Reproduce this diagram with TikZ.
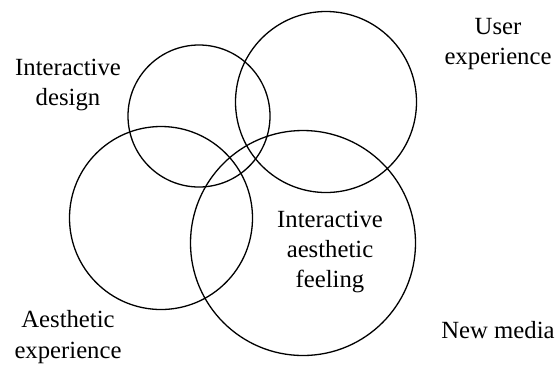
\documentclass[tikz,border=0pt]{standalone}
\usepackage{fontspec}
\setmainfont{Liberation Serif}
\begin{document}
\begin{tikzpicture}[x=1bp,y=-1bp,
  ring/.style={circle,draw,line width=1.3bp,inner sep=0pt},
  lbl/.style={align=center,inner sep=0pt,font=\fontsize{24.8}{30.5}\selectfont}]
\useasboundingbox (0,0) rectangle (559,365);
\node[ring,minimum size=142bp] (design) at (199,116) {};
\node[ring,minimum size=181bp] (user) at (326,102) {};
\node[ring,minimum size=183bp] (aest) at (161,218) {};
\node[ring,minimum size=225bp] (media) at (303,243) {};
\node[lbl] (tdesign) at (68,85) {Interactive\\design};
\node[lbl] (tuser) at (498,44) {User\\experience};
\node[lbl] (tcenter) at (330,252) {Interactive\\aesthetic\\feeling};
\node[lbl] (taest) at (68,337) {Aesthetic\\experience};
\node[lbl] (tmedia) at (498,330) {New media};
\end{tikzpicture}
\end{document}
